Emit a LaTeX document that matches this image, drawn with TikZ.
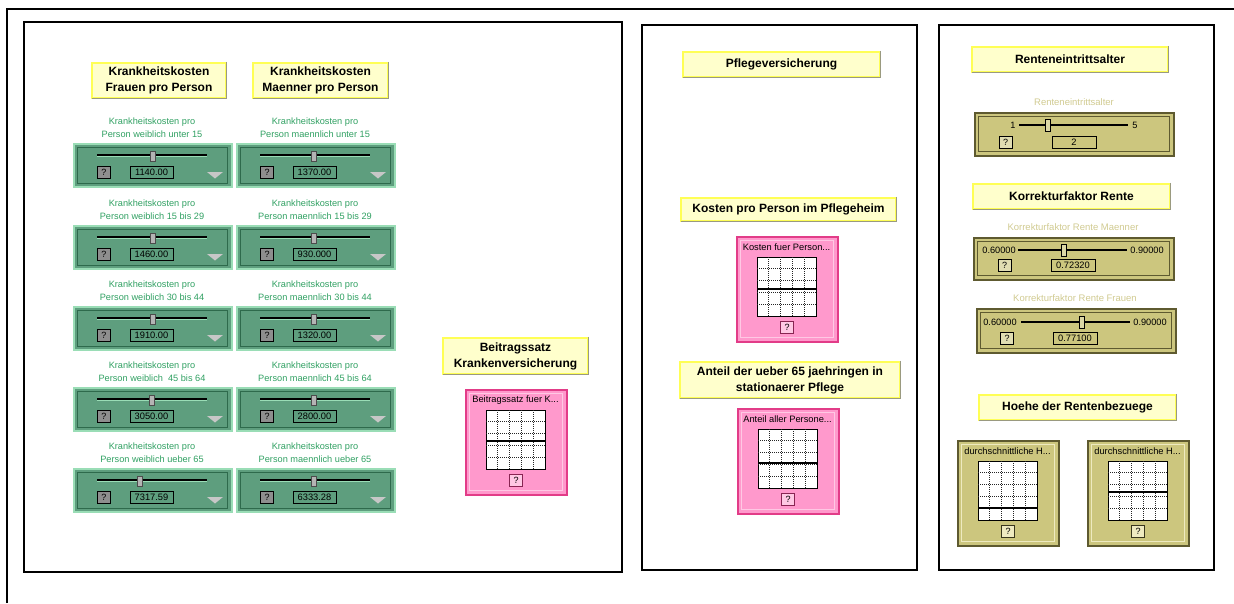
\documentclass[tikz,border=0pt]{standalone}
\usepackage{fontspec}
\setmainfont{Liberation Sans}
\definecolor{hdrfill}{HTML}{FFFFCC}
\definecolor{hdrline}{HTML}{FFFF55}
\definecolor{hdrshadow}{HTML}{9A9A80}
\definecolor{gfill}{HTML}{5E9E7E}
\definecolor{glight}{HTML}{9ADDB6}
\definecolor{gdark}{HTML}{2E6A4C}
\definecolor{gtext}{HTML}{30A062}
\definecolor{pfill}{HTML}{FF99CC}
\definecolor{pline}{HTML}{E23C88}
\definecolor{plight}{HTML}{FFC8E4}
\definecolor{ofill}{HTML}{CCC67E}
\definecolor{odark}{HTML}{5E5A30}
\definecolor{olight}{HTML}{EEEAC0}
\definecolor{otext}{HTML}{D0CA90}
\definecolor{btngray}{HTML}{8E8E8E}
\definecolor{thumbgray}{HTML}{B4B4B4}
\tikzset{
  x=1pt, y=-1pt,
  panel/.style={draw=black, line width=1.1pt},
  hdr/.style={draw=hdrline, fill=hdrfill, line width=1.3pt, inner sep=0pt,
    font=\fontsize{12}{16}\selectfont\bfseries, align=center},
  glabel/.style={text=gtext, font=\fontsize{9.2}{13}\selectfont, align=center, inner sep=0pt},
  olabel/.style={text=otext, font=\fontsize{9.5}{13}\selectfont, inner sep=0pt},
  gbody/.style={draw=glight, fill=gfill, line width=1.5pt, inner sep=0pt, anchor=north west},
  ginner/.style={draw=gdark, line width=0.9pt},
  track/.style={line width=2.2pt, black},
  gthumb/.style={draw=black!70, fill=thumbgray, line width=0.6pt, minimum width=5pt, minimum height=10pt, inner sep=0pt},
  qbtn/.style={draw=black, line width=0.8pt, minimum width=13pt, minimum height=12pt, inner sep=0pt,
    font=\fontsize{9}{10}\selectfont},
  gq/.style={qbtn, fill=btngray},
  valbox/.style={draw=black, line width=0.8pt, minimum height=12pt, inner sep=0pt,
    font=\fontsize{9.3}{10}\selectfont},
  gbox/.style={valbox, fill=gfill, minimum width=43pt},
  gtri/.style={fill=black!22},
  obody/.style={draw=odark, fill=ofill, line width=1.5pt, inner sep=0pt, anchor=north west},
  oinner/.style={draw=odark, line width=0.9pt},
  othumb/.style={draw=black, fill=ofill!70!white, line width=0.6pt, minimum width=5pt, minimum height=12pt, inner sep=0pt},
  oq/.style={qbtn, fill=ofill!60!white},
  obox/.style={valbox, fill=ofill, line width=1pt},
  onum/.style={font=\fontsize{9.2}{10}\selectfont, inner sep=0pt},
  gtitle/.style={font=\fontsize{9.3}{10}\selectfont, inner sep=0pt},
  plot/.style={draw=black, fill=white, line width=0.9pt, minimum width=59pt, minimum height=59pt, inner sep=0pt, anchor=north west},
  gridline/.style={black!85, dash pattern=on 1pt off 1pt, line width=0.9pt},
  levelline/.style={black, line width=1.1pt},
}

% yellow title box: name, left, top, right, bottom, text
\newcommand\hdrbox[6]{%
  \node[hdr, minimum width={(#4-#2)*1pt}, minimum height={(#5-#3)*1pt}]
    (#1) at ({(#2+#4)/2},{(#3+#5)/2}) {#6};
  \draw[hdrshadow, line width=1pt] ([xshift=-0.5pt,yshift=0.5pt]#1.north east)
    -- ([xshift=-0.5pt,yshift=0.5pt]#1.south east) -- ([xshift=0.5pt,yshift=0.5pt]#1.south west);
}

% green slider: name, x, y, second label line, value, thumb offset
\newcommand\gslider[6]{%
  \begin{scope}[shift={(#2,#3)}]
    \node[glabel] (#1-lab) at (79,-15) {Krankheitskosten pro\\#4};
    \node[gbody, minimum width=158pt, minimum height=43pt] (#1) at (0,0) {};
    \draw[ginner] (4,4) rectangle (154,40);
    \draw[track] (24,12) -- (134,12);
    \draw[glight, line width=0.7pt] (24,13.6) -- (134,13.6);
    \node[gthumb] (#1-thumb) at (#6,13) {};
    \node[gq] (#1-q) at (31,29.5) {?};
    \node[gbox] (#1-val) at (78.5,29) {#5};
    \fill[gtri] (134,29) -- (150,29) -- (142,35.5) -- cycle;
  \end{scope}
}

% plot widget: name, x, y, fill, border, light, title, level line offset
\newcommand\plotw[8]{%
  \begin{scope}[shift={(#2,#3)}]
    \node[draw=#5, fill=#4, line width=1.6pt, minimum width=101pt, minimum height=105pt,
      inner sep=0pt, anchor=north west] (#1) at (0,0) {};
    \draw[#6, line width=1pt] (4,4) rectangle (97,101);
    \node[gtitle] (#1-title) at (50.5,11.5) {#7};
    \node[plot] (#1-plot) at (21,21) {};
    \foreach \k in {1,...,4} {
      \draw[gridline] ({21+11.8*\k},21) -- ({21+11.8*\k},80);
      \draw[gridline] (21,{21+11.8*\k}) -- (80,{21+11.8*\k});
    }
    \draw[levelline] (21,#8) -- (80,#8);
    \node[qbtn, fill=#6, draw=#5!60!black] (#1-q) at (51,91) {?};
  \end{scope}
}

\begin{document}
\begin{tikzpicture}
\useasboundingbox (0,0) rectangle (1234,603);

% outer frame and the three panels
\draw[line width=2.6pt] (7,603) -- (7,9) -- (1234,9);
\draw[panel] (24,22) rectangle (622,572);
\draw[panel] (642,25) rectangle (917,570);
\draw[panel] (939,25) rectangle (1214,570);

% ---- panel 1: health costs ----
\hdrbox{hf}{92}{63}{226}{98}{Krankheitskosten\\Frauen pro Person}
\hdrbox{hm}{253}{63}{388}{98}{Krankheitskosten\\Maenner pro Person}

\gslider{w1}{73}{143}{Person weiblich unter 15}{1140.00}{80}
\gslider{w2}{73}{225}{Person weiblich 15 bis 29}{1460.00}{80}
\gslider{w3}{73}{306}{Person weiblich 30 bis 44}{1910.00}{80}
\gslider{w4}{73}{387}{Person weiblich \ 45 bis 64}{3050.00}{79}
\gslider{w5}{73}{468}{Person weiblich ueber 65}{7317.59}{67}

\gslider{m1}{236}{143}{Person maennlich unter 15}{1370.00}{78}
\gslider{m2}{236}{225}{Person maennlich 15 bis 29}{930.000}{78}
\gslider{m3}{236}{306}{Person maennlich 30 bis 44}{1320.00}{78}
\gslider{m4}{236}{387}{Person maennlich 45 bis 64}{2800.00}{78}
\gslider{m5}{236}{468}{Person maennlich ueber 65}{6333.28}{78}

\hdrbox{hb}{443}{338}{588}{374}{Beitragssatz\\Krankenversicherung}
\plotw{pb}{465}{389}{pfill}{pline}{plight}{Beitragssatz fuer K...}{52}

% ---- panel 2: long-term care ----
\hdrbox{hp}{683}{52}{880}{77}{Pflegeversicherung}
\hdrbox{hk}{681}{198}{896}{221}{Kosten pro Person im Pflegeheim}
\plotw{pk}{736}{236}{pfill}{pline}{plight}{Kosten fuer Person...}{53}
\hdrbox{ha}{680}{362}{900}{398}{Anteil der ueber 65 jaehringen in\\stationaerer Pflege}
\plotw{pa}{737}{408}{pfill}{pline}{plight}{Anteil aller Persone...}{55}

% ---- panel 3: pensions ----
\hdrbox{hr}{972}{47}{1168}{72}{Renteneintrittsalter}
\node[olabel] (ra-lab) at (1074,102) {Renteneintrittsalter};
\node[obody, minimum width=199pt, minimum height=43pt] (ra) at (974,112) {};
\draw[oinner] (978,116) rectangle (1169,151);
\node[onum] (ra-min) at (1013,125) {1};
\draw[track] (1019,125) -- (1128,125);
\node[othumb] (ra-thumb) at (1048,125) {};
\node[onum] (ra-max) at (1135,125) {5};
\node[oq] (ra-q) at (1005.5,142) {?};
\node[obox, minimum width=44pt] (ra-val) at (1074,142) {2};

\hdrbox{hkr}{973}{184}{1170}{209}{Korrekturfaktor Rente}
\node[olabel] (km-lab) at (1073,227) {Korrekturfaktor Rente Maenner};
\node[obody, minimum width=200pt, minimum height=42pt] (km) at (973,237) {};
\draw[oinner] (977,241) rectangle (1169,275);
\node[onum] (km-min) at (999,250) {0.60000};
\draw[track] (1018,250) -- (1127,250);
\node[othumb] (km-thumb) at (1064,250) {};
\node[onum] (km-max) at (1147,250) {0.90000};
\node[oq] (km-q) at (1004.5,265.5) {?};
\node[obox, minimum width=44pt] (km-val) at (1073,265.5) {0.72320};

\node[olabel] (kf-lab) at (1075,298) {Korrekturfaktor Rente Frauen};
\node[obody, minimum width=199pt, minimum height=44pt] (kf) at (976,308) {};
\draw[oinner] (980,312) rectangle (1171,348);
\node[onum] (kf-min) at (1000,322) {0.60000};
\draw[track] (1021,322) -- (1130,322);
\node[othumb] (kf-thumb) at (1082,322) {};
\node[onum] (kf-max) at (1150,322) {0.90000};
\node[oq] (kf-q) at (1007,338.5) {?};
\node[obox, minimum width=44pt] (kf-val) at (1075,338.5) {0.77100};

\hdrbox{hh}{979}{395}{1176}{420}{Hoehe der Rentenbezuege}
\plotw{ph1}{957}{440}{ofill}{odark}{olight}{durchschnittliche H...}{68}
\plotw{ph2}{1087}{440}{ofill}{odark}{olight}{durchschnittliche H...}{52}
\end{tikzpicture}
\end{document}
